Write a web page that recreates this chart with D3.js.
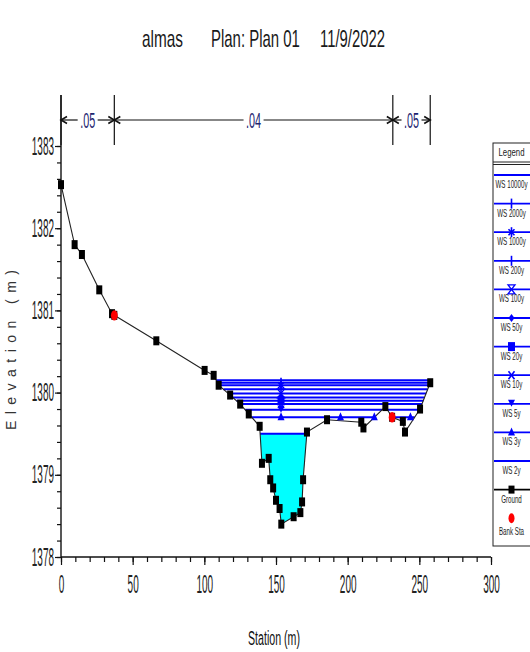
<!DOCTYPE html>
<html><head><meta charset="utf-8">
<script src="https://cdn.jsdelivr.net/npm/d3@7"></script>
<style>
html,body{margin:0;padding:0;background:#fff;}
svg{display:block;font-family:"Liberation Sans",Arial,sans-serif;}
</style></head><body>
<svg id="c" width="530" height="652"></svg>
<script>
// ---------------- data ----------------
const titleParts = ["almas", "Plan: Plan 01", "11/9/2022"];
const groundStation = [0, 9.5, 14.6, 26.7, 35.6, 37.2, 66.5, 100.2, 106.5, 110, 118, 125, 131, 138.6,
  140.2, 144.9, 146, 148, 150, 152.5, 153.7, 162.3, 167, 168.2, 168.9, 171.6, 185.6, 209.5, 211,
  226.3, 231, 238.5, 240, 250.5, 257.6];
const groundElevation = [1382.53, 1381.80, 1381.68, 1381.25, 1380.96, 1380.94, 1380.63, 1380.27, 1380.21, 1380.09, 1379.97, 1379.86, 1379.74, 1379.59,
  1379.14, 1379.20, 1378.94, 1378.84, 1378.69, 1378.59, 1378.40, 1378.49, 1378.54, 1378.67, 1378.94, 1379.52, 1379.67, 1379.64, 1379.57,
  1379.83, 1379.70, 1379.65, 1379.52, 1379.80, 1380.12];
const bankStations = [37.2, 231];
const wsNames = ["WS 10000y", "WS 2000y", "WS 1000y", "WS 200y", "WS 100y", "WS 50y", "WS 20y", "WS 10y", "WS 5y", "WS 3y", "WS 2y"];
const wsElevation = [1380.15, 1380.12, 1380.09, 1380.04, 1379.99, 1379.94, 1379.90, 1379.86, 1379.79, 1379.70, 1379.50];
const wsSymbol = ["none", "plus", "star", "plus", "hourglass", "diamond", "square", "x", "triDown", "triUp", "none"];
const wsMarkerStations = [153.5];
const ws3yExtraMarkerStations = [195, 218.6, 243.8];
const manningBreaks = [0, 37.2, 231.5, 257.6];
const manningN = [".05", ".04", ".05"];
const xTickValues = [0, 50, 100, 150, 200, 250, 300];
const yTickValues = [1378, 1379, 1380, 1381, 1382, 1383];
const xLabel = "Station (m)";
const yLabel = "Elevation (m)";

// ---------------- setup ----------------
const svg = d3.select("#c");
const x = d3.scaleLinear().domain([0, 300]).range([61, 491]);
const y = d3.scaleLinear().domain([1378, 1383]).range([557, 146]);
const BLUE = "#0000ff";

function narrowText(parent, str, px, py, opts) {
  const t = parent.append("text").attr("x", 0).attr("y", 0)
    .attr("font-size", opts.size).attr("fill", opts.fill || "#222")
    .attr("text-anchor", opts.anchor || "start").text(str);
  const natural = t.node().getComputedTextLength();
  let k = opts.width ? opts.width / natural : opts.k;
  if (opts.maxWidth && natural * k > opts.maxWidth) k = opts.maxWidth / natural;
  t.attr("transform", `translate(${px},${py}) scale(${k},1)`);
  return t;
}
function squishAxisText(sel, k) {
  sel.each(function () {
    const t = d3.select(this);
    const tx = +t.attr("x") || 0, ty = +t.attr("y") || 0;
    t.attr("x", 0).attr("y", 0).attr("transform", `translate(${tx},${ty}) scale(${k},1)`);
  });
}

// title
const titleX = [142, 211, 320], titleW = [41, 89, 65];
titleParts.forEach((t, i) => narrowText(svg, t, titleX[i], 46.5, { size: 24, width: titleW[i], fill: "#1a1a1a" }));

// ---------------- axes ----------------
const gx = svg.append("g").attr("transform", `translate(0,${y(1378)})`);
gx.call(d3.axisBottom(x).tickValues(d3.range(0, 301, 10)).tickSize(5).tickFormat(""));
gx.append("g").call(d3.axisBottom(x).tickValues(xTickValues).tickSize(8).tickPadding(10).tickFormat(d3.format("d")));
gx.selectAll("path.domain").remove();
gx.selectAll("line").attr("stroke", "#111").attr("stroke-width", 1.2);
gx.selectAll("text").attr("font-size", 25).attr("fill", "#222").attr("font-family", "Liberation Sans, Arial, sans-serif");
squishAxisText(gx.selectAll("text"), 0.40);

const gy = svg.append("g").attr("transform", `translate(${x(0)},0)`);
gy.call(d3.axisLeft(y).tickValues(d3.range(1378, 1383.01, 0.2)).tickSize(4).tickFormat(""));
gy.append("g").call(d3.axisLeft(y).tickValues(yTickValues).tickSize(6).tickPadding(1).tickFormat(d3.format("d")));
gy.selectAll("path.domain").remove();
gy.selectAll("line").attr("stroke", "#111").attr("stroke-width", 1.2);
gy.selectAll("text").attr("font-size", 25).attr("fill", "#222").attr("font-family", "Liberation Sans, Arial, sans-serif");
squishAxisText(gy.selectAll("text"), 0.40);

const topY = y(1383) - 51;
svg.append("line").attr("x1", x(0)).attr("x2", x(300)).attr("y1", y(1378)).attr("y2", y(1378)).attr("stroke", "#111").attr("stroke-width", 1.4);
svg.append("line").attr("x1", x(0)).attr("x2", x(0)).attr("y1", y(1378)).attr("y2", topY).attr("stroke", "#111").attr("stroke-width", 1.4);

// axis titles
narrowText(svg, xLabel, 274, 645, { size: 21, width: 52, anchor: "middle", fill: "#111" });
svg.append("text").attr("transform", "translate(16,350) rotate(-90)").attr("text-anchor", "middle")
  .attr("font-size", 14).attr("fill", "#333").attr("textLength", 160).attr("lengthAdjust", "spacing").text(yLabel);

// ---------------- Manning's n ----------------
const gm = svg.append("g").attr("stroke", "#111").attr("stroke-width", 1.2);
const arrowY = topY + 25;
manningBreaks.forEach(b => {
  gm.append("line").attr("x1", x(b)).attr("x2", x(b)).attr("y1", topY).attr("y2", y(1383) - 1);
});
function arrowHead(xt, dir) {
  gm.append("path").attr("fill", "none").attr("stroke-width", 1.6)
    .attr("d", `M${xt - dir * 6},${arrowY - 3.5} L${xt},${arrowY} L${xt - dir * 6},${arrowY + 3.5}`);
}
manningN.forEach((n, i) => {
  const xa = x(manningBreaks[i]), xb = x(manningBreaks[i + 1]), mid = (xa + xb) / 2;
  const half = 10;
  gm.append("line").attr("x1", xa).attr("x2", mid - half).attr("y1", arrowY).attr("y2", arrowY);
  gm.append("line").attr("x1", mid + half).attr("x2", xb).attr("y1", arrowY).attr("y2", arrowY);
  arrowHead(xa, -1); arrowHead(xb, 1);
  narrowText(svg, n, mid, arrowY + 8, { size: 22, width: 15, anchor: "middle", fill: "#1c2470" });
});

// ---------------- water surfaces ----------------
const groundPts = groundStation.map((s, i) => [s, groundElevation[i]]);
function wetIntervals(h) {
  const res = []; let start = null;
  if (groundPts[0][1] < h) start = groundPts[0][0];
  for (let i = 0; i < groundPts.length - 1; i++) {
    const [s0, e0] = groundPts[i], [s1, e1] = groundPts[i + 1];
    const w0 = e0 < h, w1 = e1 < h;
    if (!w0 && w1) start = s0 + (h - e0) / (e1 - e0) * (s1 - s0);
    else if (w0 && !w1) { res.push([start, s0 + (h - e0) / (e1 - e0) * (s1 - s0)]); start = null; }
  }
  if (start !== null) res.push([start, groundPts[groundPts.length - 1][0]]);
  return res;
}
const line = d3.line().x(d => x(d[0])).y(d => y(d[1]));

const lowIdx = wsElevation.length - 1;
const hLow = wsElevation[lowIdx];
wetIntervals(hLow).forEach(([a, b]) => {
  const poly = [[a, hLow]].concat(groundPts.filter(p => p[0] > a && p[0] < b)).concat([[b, hLow]]);
  svg.append("path").attr("d", line(poly) + "Z").attr("fill", "#00ffff").attr("stroke", "none");
});

const gws = svg.append("g");
wsElevation.forEach((h, i) => {
  wetIntervals(h).forEach(([a, b]) => {
    gws.append("path").attr("d", line([[a, h], [b, h]])).attr("stroke", BLUE).attr("stroke-width", 2).attr("fill", "none");
  });
});

// ground
svg.append("path").attr("d", line(groundPts)).attr("fill", "none").attr("stroke", "#222").attr("stroke-width", 1.1);
svg.append("g").selectAll("rect").data(groundPts).join("rect")
  .attr("x", d => x(d[0]) - 3).attr("y", d => y(d[1]) - 4.5).attr("width", 6).attr("height", 9).attr("fill", "#000");

// bank stations
function groundAt(s) {
  for (let i = 0; i < groundPts.length - 1; i++) {
    const [s0, e0] = groundPts[i], [s1, e1] = groundPts[i + 1];
    if (s >= s0 && s <= s1) return e0 + (s - s0) / (s1 - s0) * (e1 - e0);
  }
  return groundPts[groundPts.length - 1][1];
}
svg.append("g").selectAll("ellipse").data(bankStations).join("ellipse")
  .attr("cx", d => x(d)).attr("cy", d => y(groundAt(d))).attr("rx", 3.4).attr("ry", 5.2).attr("fill", "#ff0000");

// symbols
function drawSymbol(g, type, cx, cy, color) {
  const L = (x1, y1, x2, y2) => g.append("line").attr("x1", x1).attr("y1", y1).attr("x2", x2).attr("y2", y2)
    .attr("stroke", color).attr("stroke-width", 1.6);
  switch (type) {
    case "plus": L(cx, cy - 5, cx, cy + 5); break;
    case "star": L(cx, cy - 5, cx, cy + 5); L(cx - 3, cy - 3, cx + 3, cy + 3); L(cx - 3, cy + 3, cx + 3, cy - 3); break;
    case "hourglass": g.append("path").attr("d", `M${cx - 3.5},${cy - 4.5}h7l-7,9h7z`).attr("fill", "none").attr("stroke", color).attr("stroke-width", 1.3); break;
    case "diamond": g.append("path").attr("d", `M${cx},${cy - 4}l3,4l-3,4l-3,-4z`).attr("fill", color); break;
    case "square": g.append("rect").attr("x", cx - 3.5).attr("y", cy - 4.5).attr("width", 7).attr("height", 9).attr("fill", color); break;
    case "x": L(cx - 3, cy - 4, cx + 3, cy + 4); L(cx - 3, cy + 4, cx + 3, cy - 4); break;
    case "triDown": g.append("path").attr("d", `M${cx - 3.5},${cy - 4}h7l-3.5,7z`).attr("fill", color); break;
    case "triUp": g.append("path").attr("d", `M${cx - 3.5},${cy + 3}h7l-3.5,-8z`).attr("fill", color); break;
    default: break;
  }
}
const gsym = svg.append("g");
wsElevation.forEach((h, i) => {
  wsMarkerStations.forEach(s => drawSymbol(gsym, wsSymbol[i], x(s), y(h), BLUE));
  if (wsNames[i] === "WS 3y") ws3yExtraMarkerStations.forEach(s => drawSymbol(gsym, wsSymbol[i], x(s), y(h), BLUE));
});

// ---------------- legend ----------------
const lg = svg.append("g");
const lgX = 493, lgW = 40, lgTop = 143, lgBottom = 546, lgCx = 511.5;
lg.append("rect").attr("x", lgX).attr("y", lgTop).attr("width", lgW).attr("height", lgBottom - lgTop)
  .attr("fill", "#fff").attr("stroke", "#222").attr("stroke-width", 1);
narrowText(lg, "Legend", lgCx, 156, { size: 10, width: 26, anchor: "middle" });
lg.append("line").attr("x1", lgX).attr("x2", lgX + lgW).attr("y1", 162).attr("y2", 162).attr("stroke", "#222");
lg.append("line").attr("x1", lgX).attr("x2", lgX + lgW).attr("y1", 164.5).attr("y2", 164.5).attr("stroke", "#222");
const legendItems = wsNames.map((n, i) => ({ name: n, kind: "ws", sym: wsSymbol[i] }))
  .concat([{ name: "Ground", kind: "ground" }, { name: "Bank Sta", kind: "bank" }]);
const step = 28.6, firstY = 175;
legendItems.forEach((it, i) => {
  const ly = firstY + step * i;
  if (it.kind === "ws") {
    lg.append("line").attr("x1", lgX + 1).attr("x2", 531).attr("y1", ly).attr("y2", ly).attr("stroke", BLUE).attr("stroke-width", 1.8);
    drawSymbol(lg, it.sym, lgCx, ly, BLUE);
  } else if (it.kind === "ground") {
    lg.append("line").attr("x1", lgX + 1).attr("x2", 531).attr("y1", ly).attr("y2", ly).attr("stroke", "#000").attr("stroke-width", 1.8);
    lg.append("rect").attr("x", lgCx - 3).attr("y", ly - 4).attr("width", 6).attr("height", 8).attr("fill", "#000");
  } else {
    lg.append("ellipse").attr("cx", lgCx).attr("cy", ly).attr("rx", 3).attr("ry", 5).attr("fill", "#ff0000");
  }
  narrowText(lg, it.name, lgCx, ly + (it.kind === "bank" ? 17 : 13), { size: 10, k: 0.62, maxWidth: 35, anchor: "middle" });
});
</script>
</body></html>
